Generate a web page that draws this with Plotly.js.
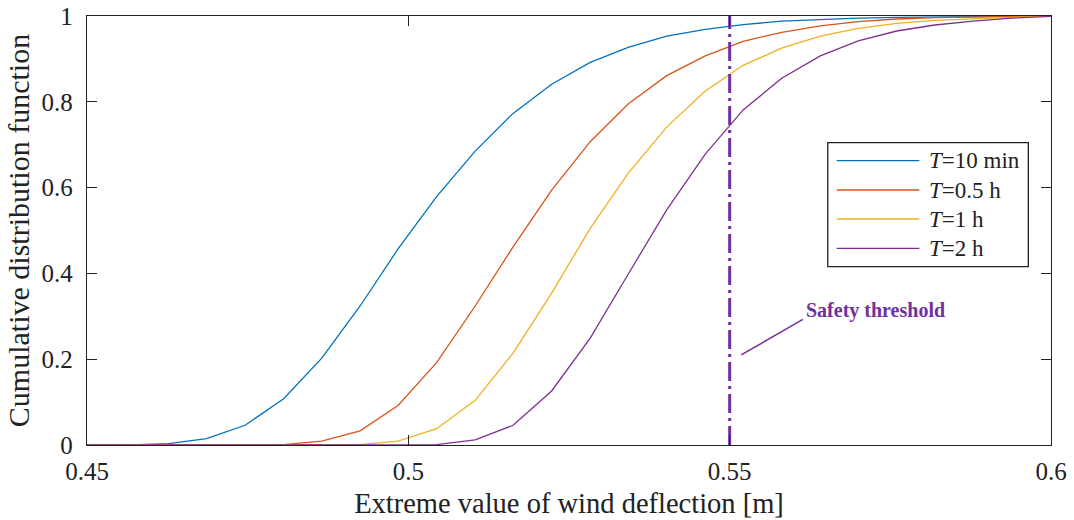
<!DOCTYPE html>
<html>
<head>
<meta charset="utf-8">
<script src="https://cdn.plot.ly/plotly-3.0.1.min.js"></script>
<style>html,body{margin:0;padding:0;background:#fff;}#chart{width:1074px;height:520px;}</style>
</head>
<body>
<div id="chart"></div>
<script>
// Extreme value of wind deflection [m]
const deflection = [0.45, 0.4567, 0.4627, 0.4686, 0.4746, 0.4806, 0.4865, 0.4925, 0.4984, 0.5044,
  0.5104, 0.5163, 0.5223, 0.5283, 0.5342, 0.5402, 0.5462, 0.5521, 0.5581, 0.5641,
  0.5700, 0.5760, 0.5819, 0.5879, 0.5939, 0.6];

const seriesNames = ['<i>T</i>=10 min', '<i>T</i>=0.5 h', '<i>T</i>=1 h', '<i>T</i>=2 h'];

const cdf10min = [0, 0, 0.003, 0.015, 0.046, 0.108, 0.202, 0.324, 0.457, 0.579,
  0.685, 0.773, 0.841, 0.892, 0.927, 0.953, 0.969, 0.980, 0.988, 0.992,
  0.995, 0.997, 0.998, 0.999, 1.0, 1.0];
const cdf05h = [0, 0, 0, 0, 0, 0.001, 0.009, 0.033, 0.092, 0.192,
  0.324, 0.462, 0.594, 0.707, 0.795, 0.861, 0.907, 0.941, 0.962, 0.977,
  0.987, 0.993, 0.996, 0.998, 0.999, 1.0];
const cdf1h = [0, 0, 0, 0, 0, 0, 0, 0.001, 0.009, 0.038,
  0.104, 0.214, 0.354, 0.505, 0.633, 0.741, 0.825, 0.885, 0.925, 0.953,
  0.971, 0.983, 0.990, 0.994, 0.997, 1.0];
const cdf2h = [0, 0, 0, 0, 0, 0, 0, 0, 0, 0.001,
  0.012, 0.046, 0.126, 0.249, 0.398, 0.548, 0.678, 0.781, 0.855, 0.907,
  0.942, 0.965, 0.979, 0.988, 0.995, 0.999];

const thresholdX = [0.55, 0.55];
const thresholdY = [0, 1];
const thresholdLabel = 'Safety threshold';

const xTickVals = [0.45, 0.5, 0.55, 0.6];
const xTickText = ['0.45', '0.5', '0.55', '0.6'];
const yTickVals = [0, 0.2, 0.4, 0.6, 0.8, 1];
const yTickText = ['0', '0.2', '0.4', '0.6', '0.8', '1'];

const colors = ['#0072BD', '#D95319', '#EDB120', '#7E2F8E'];
const allSeries = [cdf10min, cdf05h, cdf1h, cdf2h];

const FONT = '"Liberation Serif", "Times New Roman", serif';
const INK = '#222';

const traces = allSeries.map((ys, i) => ({
  type: 'scatter', mode: 'lines',
  x: deflection, y: ys, name: seriesNames[i],
  line: {color: colors[i], width: 1.3},
  showlegend: false,
  hoverinfo: 'skip'
}));

traces.push({
  type: 'scatter', mode: 'lines',
  x: thresholdX, y: thresholdY, showlegend: false, name: thresholdLabel,
  line: {color: '#7030A0', width: 3, dash: '19px,5px,3px,5px'},
  hoverinfo: 'skip'
});

const axisCommon = {
  showline: true, linecolor: INK, linewidth: 1.3,
  mirror: 'ticks', ticks: 'inside', ticklen: 10, tickwidth: 1.3, tickcolor: INK,
  showgrid: false, zeroline: false,
  tickfont: {family: FONT, size: 25, color: INK}
};

// Legend box (drawn in paper coordinates, like a MATLAB legend)
const legendBox = {x0: 0.7684, x1: 0.9765, y0: 0.4156, y1: 0.7047};
const legendRowY = [0.6627, 0.5944, 0.5268, 0.4585];
const legendLineX = [0.7777, 0.8634];
const legendTextX = 0.8717;

const shapes = [{
  type: 'rect', xref: 'paper', yref: 'paper',
  x0: legendBox.x0, x1: legendBox.x1, y0: legendBox.y0, y1: legendBox.y1,
  fillcolor: '#fff', line: {color: INK, width: 1.3}, layer: 'above'
}, {
  type: 'line', xref: 'x', yref: 'y',
  x0: 0.5518, y0: 0.21, x1: 0.5614, y1: 0.293,
  line: {color: '#7030A0', width: 1.5}
}];
const annotations = [{
  xref: 'x', yref: 'y', x: 0.5616, y: 0.313, xanchor: 'left', yanchor: 'middle',
  text: '<b>' + thresholdLabel + '</b>', showarrow: false,
  font: {family: FONT, size: 20, color: '#7030A0'}
}];
seriesNames.forEach((nm, i) => {
  shapes.push({
    type: 'line', xref: 'paper', yref: 'paper',
    x0: legendLineX[0], x1: legendLineX[1], y0: legendRowY[i], y1: legendRowY[i],
    line: {color: colors[i], width: 1.3}, layer: 'above'
  });
  annotations.push({
    xref: 'paper', yref: 'paper', x: legendTextX, y: legendRowY[i],
    xanchor: 'left', yanchor: 'middle', showarrow: false,
    text: nm, font: {family: FONT, size: 23, color: INK}
  });
});

const layout = {
  width: 1074, height: 520,
  margin: {l: 87, r: 23, t: 16, b: 75},
  paper_bgcolor: '#fff', plot_bgcolor: '#fff',
  font: {family: FONT, color: INK},
  xaxis: Object.assign({}, axisCommon, {
    range: [0.45, 0.6], tickmode: 'array', tickvals: xTickVals, ticktext: xTickText,
    ticklabelstandoff: 4,
    title: {text: 'Extreme value of wind deflection [m]', font: {family: FONT, size: 28.5, color: INK}, standoff: 8}
  }),
  yaxis: Object.assign({}, axisCommon, {
    range: [0, 1], tickmode: 'array', tickvals: yTickVals, ticktext: yTickText,
    ticklabelstandoff: 8,
    title: {text: 'Cumulative distribution function', font: {family: FONT, size: 30, color: INK}, standoff: 3}
  }),
  showlegend: false,
  shapes: shapes,
  annotations: annotations
};

Plotly.newPlot('chart', traces, layout, {staticPlot: true, displayModeBar: false});
</script>
</body>
</html>
